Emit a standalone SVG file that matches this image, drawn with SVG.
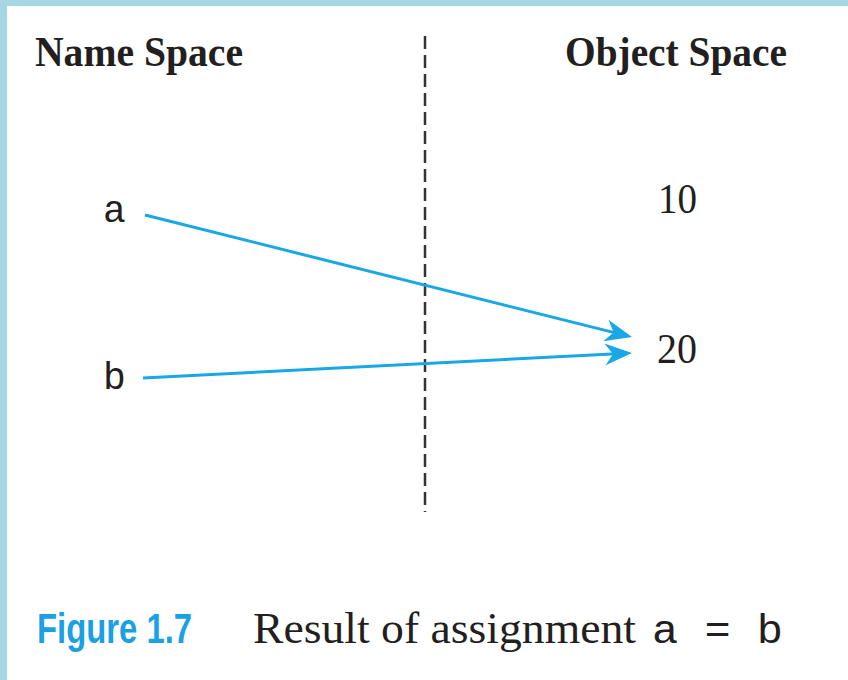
<svg xmlns="http://www.w3.org/2000/svg" width="848" height="680" viewBox="0 0 848 680">
<style>
.title{font-family:"Liberation Serif","Times New Roman",serif;font-weight:bold;font-size:42px;fill:#231f20}
.mono{font-family:"Liberation Mono","Courier New",monospace;font-size:38px;fill:#231f20}
.num{font-family:"Liberation Serif","Times New Roman",serif;font-size:42px;fill:#231f20}
.cap{font-family:"Liberation Serif","Times New Roman",serif;font-size:44px;fill:#231f20}
.capmono{font-family:"Liberation Mono","Courier New",monospace;font-size:40px;fill:#231f20}
.fig{font-family:"Liberation Sans",Arial,sans-serif;font-weight:bold;font-size:42px;fill:#1aa0e4}
.conn{stroke:#1aa7e6;stroke-width:3;fill:none}
</style>
<defs>
<marker id="arrow" viewBox="-28 -12 30 24" markerWidth="30" markerHeight="24" refX="-10" refY="0" orient="auto" markerUnits="userSpaceOnUse">
<path d="M0,0 L-27,-11 L-19,0 L-27,11 Z" fill="#1aa7e6"/>
</marker>
</defs>
<rect width="848" height="680" fill="#ffffff"/>
<rect x="0" y="0" width="848" height="6" fill="#a6d6e3"/>
<rect x="0" y="0" width="7" height="680" fill="#a6d6e3"/>
<g id="divider">
<line x1="425" y1="36" x2="425" y2="512" stroke="#333333" stroke-width="2.5" stroke-dasharray="13 6"/>
</g>
<g id="name-space-title"><text class="title" x="35" y="66" textLength="208" lengthAdjust="spacingAndGlyphs">Name Space</text></g>
<g id="object-space-title"><text class="title" x="565" y="66" textLength="222" lengthAdjust="spacingAndGlyphs">Object Space</text></g>
<g id="node-a"><text class="mono" x="103" y="222">a</text></g>
<g id="node-b"><text class="mono" x="103" y="389">b</text></g>
<g id="node-10"><text class="num" x="658" y="213" textLength="39" lengthAdjust="spacingAndGlyphs">10</text></g>
<g id="node-20"><text class="num" x="657" y="363" textLength="40" lengthAdjust="spacingAndGlyphs">20</text></g>
<g id="connectors">
<line class="conn" x1="145" y1="215" x2="622.3" y2="334.6" marker-end="url(#arrow)"/>
<line class="conn" x1="143" y1="378" x2="622" y2="353.5" marker-end="url(#arrow)"/>
</g>
<g id="caption">
<text class="fig" x="37" y="643" textLength="155" lengthAdjust="spacingAndGlyphs">Figure 1.7</text>
<text class="cap" x="253" y="643" textLength="383" lengthAdjust="spacingAndGlyphs">Result of assignment</text>
<text class="capmono" x="652" y="643" textLength="131" lengthAdjust="spacingAndGlyphs">a = b</text>
</g>
</svg>
